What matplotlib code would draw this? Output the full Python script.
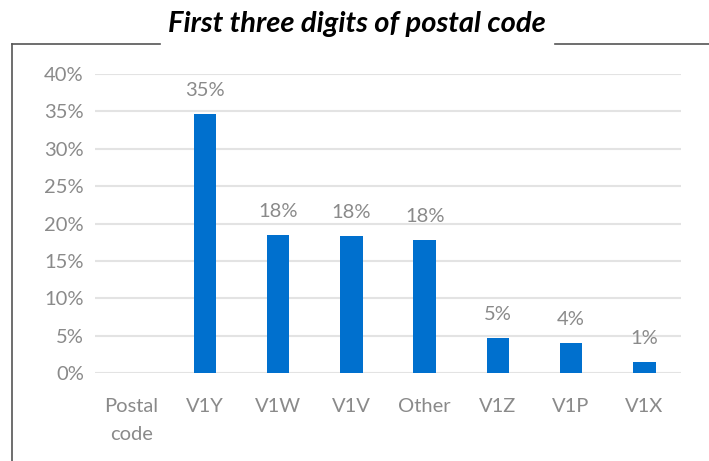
import matplotlib
matplotlib.use("Agg")
import matplotlib.pyplot as plt
from matplotlib.lines import Line2D
import numpy as np

categories = ["Postal\ncode", "V1Y", "V1W", "V1V", "Other", "V1Z", "V1P", "V1X"]
values = [np.nan, 34.6, 18.5, 18.3, 17.8, 4.7, 4.0, 1.5]
labels = ["", "35%", "18%", "18%", "18%", "5%", "4%", "1%"]
yticks = [0, 5, 10, 15, 20, 25, 30, 35, 40]

W, H = 709, 461
fig = plt.figure(figsize=(W / 100, H / 100), dpi=100)
plt.rcParams['font.family'] = ['Lato', 'DejaVu Sans']

ax = fig.add_axes([95 / W, 1 - 373 / H, (681 - 95) / W, (373 - 74) / H])
x = np.arange(len(categories))
ax.bar(x, values, width=0.31, color="#0070CE", zorder=3)
for xi, v, lab in zip(x, values, labels):
    if lab:
        ax.text(xi, v + 2.0, lab, ha="center", va="bottom", fontsize=14.5, color="#8A8A8A")

ax.set_xlim(-0.5, len(categories) - 0.5)
ax.set_ylim(0, 40)
ax.set_yticks(yticks)
ax.set_yticklabels([f"{t}%" for t in yticks])
ax.set_xticks(x)
ax.set_xticklabels(categories, linespacing=1.75)
ax.tick_params(axis="both", length=0, labelsize=14.5, labelcolor="#8A8A8A")
ax.tick_params(axis="x", pad=18)
ax.tick_params(axis="y", pad=8)
ax.grid(axis="y", color="#E3E3E3", linewidth=1.5, zorder=0)
for s in ax.spines.values():
    s.set_visible(False)

fig.text(357 / W, 1 - 24 / H, "First three digits of postal code", ha="center", va="center",
         fontsize=21, fontweight="bold", fontstyle="italic", color="black")

lc = "#555555"
fig.add_artist(Line2D([12 / W, 12 / W], [0, 1 - 44 / H], color=lc, lw=1.2))
fig.add_artist(Line2D([12 / W, 160 / W], [1 - 44 / H, 1 - 44 / H], color=lc, lw=1.2))
fig.add_artist(Line2D([555 / W, 1], [1 - 44 / H, 1 - 44 / H], color=lc, lw=1.2))

fig.savefig("out.png", dpi=100)
